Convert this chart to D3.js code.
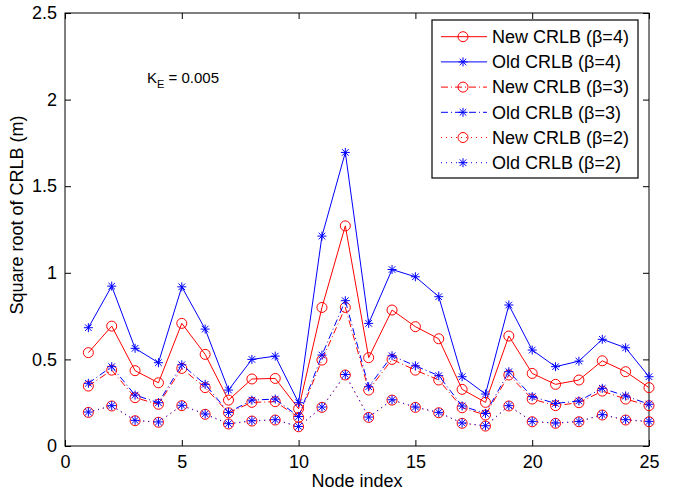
<!DOCTYPE html>
<html>
<head>
<meta charset="utf-8">
<script src="https://cdn.jsdelivr.net/npm/d3@7"></script>
<style>
  body { margin: 0; background: #fff; }
  svg { font-family: "Liberation Sans", Arial, sans-serif; }
</style>
</head>
<body>
<div id="chart"></div>
<script>
// node indices 1..25
var nodes = d3.range(1, 26);

var newB4 = [0.539, 0.692, 0.435, 0.365, 0.708, 0.529, 0.265, 0.387, 0.390, 0.215,
             0.800, 1.271, 0.510, 0.785, 0.689, 0.619, 0.327, 0.252, 0.635, 0.419,
             0.356, 0.381, 0.492, 0.429, 0.337];
var oldB4 = [0.683, 0.923, 0.564, 0.481, 0.919, 0.675, 0.323, 0.500, 0.519, 0.250,
             1.212, 1.695, 0.708, 1.019, 0.977, 0.862, 0.400, 0.300, 0.814, 0.554,
             0.458, 0.490, 0.616, 0.567, 0.400];
var newB3 = [0.346, 0.438, 0.279, 0.241, 0.448, 0.337, 0.192, 0.252, 0.256, 0.165,
             0.496, 0.800, 0.323, 0.500, 0.438, 0.381, 0.221, 0.179, 0.410, 0.271,
             0.233, 0.250, 0.317, 0.271, 0.233];
var oldB3 = [0.362, 0.458, 0.294, 0.250, 0.469, 0.356, 0.194, 0.265, 0.271, 0.170,
             0.525, 0.839, 0.342, 0.521, 0.463, 0.406, 0.231, 0.188, 0.429, 0.285,
             0.246, 0.260, 0.333, 0.289, 0.241];
var newB2 = [0.194, 0.231, 0.146, 0.137, 0.233, 0.183, 0.127, 0.144, 0.150, 0.111,
             0.223, 0.410, 0.165, 0.265, 0.223, 0.192, 0.131, 0.115, 0.231, 0.140,
             0.131, 0.140, 0.179, 0.150, 0.140];
var oldB2 = [0.196, 0.233, 0.148, 0.139, 0.235, 0.185, 0.129, 0.146, 0.152, 0.113,
             0.225, 0.413, 0.167, 0.267, 0.225, 0.194, 0.133, 0.117, 0.233, 0.142,
             0.133, 0.142, 0.181, 0.152, 0.142];

var xTicks = [0, 5, 10, 15, 20, 25];
var yTicks = [0, 0.5, 1, 1.5, 2, 2.5];

var series = [
  { name: "New CRLB (\u03b2=4)", values: newB4, color: "#ff0000", marker: "circle", dash: null },
  { name: "Old CRLB (\u03b2=4)", values: oldB4, color: "#0000ff", marker: "star", dash: null },
  { name: "New CRLB (\u03b2=3)", values: newB3, color: "#ff0000", marker: "circle", dash: "7,3,1,3" },
  { name: "Old CRLB (\u03b2=3)", values: oldB3, color: "#0000ff", marker: "star", dash: "7,3,1,3" },
  { name: "New CRLB (\u03b2=2)", values: newB2, color: "#ff0000", marker: "circle", dash: "1,4" },
  { name: "Old CRLB (\u03b2=2)", values: oldB2, color: "#0000ff", marker: "star", dash: "1,4" }
];

var width = 673, height = 494;
var margin = { left: 65, right: 24, top: 13, bottom: 48 };
var fontSize = "18px";

var svg = d3.select("#chart").append("svg")
    .attr("width", width).attr("height", height);

var x = d3.scaleLinear().domain([0, 25]).range([margin.left, width - margin.right]);
var y = d3.scaleLinear().domain([0, 2.5]).range([height - margin.bottom, margin.top]);

// axes, ticks pointing inward on all four sides (matlab box)
var tickLen = 6;
function axisStyle(g) {
  g.select(".domain").remove();
  g.selectAll(".tick line").attr("stroke", "#000");
  g.selectAll("text").attr("fill", "#000").style("font-size", fontSize);
}
svg.append("g").attr("transform", "translate(0," + y(0) + ")")
  .call(d3.axisBottom(x).tickValues(xTicks).tickSizeInner(-tickLen).tickPadding(9).tickFormat(d3.format("d")))
  .call(axisStyle);
svg.append("g").attr("transform", "translate(0," + y(2.5) + ")")
  .call(d3.axisTop(x).tickValues(xTicks).tickSizeInner(-tickLen).tickFormat(""))
  .call(axisStyle);
svg.append("g").attr("transform", "translate(" + x(0) + ",0)")
  .call(d3.axisLeft(y).tickValues(yTicks).tickSizeInner(-tickLen).tickPadding(8).tickFormat(d3.format("")))
  .call(axisStyle);
svg.append("g").attr("transform", "translate(" + x(25) + ",0)")
  .call(d3.axisRight(y).tickValues(yTicks).tickSizeInner(-tickLen).tickFormat(""))
  .call(axisStyle);

svg.append("rect")
  .attr("x", x(0)).attr("y", y(2.5))
  .attr("width", x(25) - x(0)).attr("height", y(0) - y(2.5))
  .attr("fill", "none").attr("stroke", "#000").attr("stroke-width", 1);

// marker drawing
function drawMarker(g, kind, color) {
  if (kind == "circle") {
    g.append("circle").attr("r", 5).attr("fill", "none")
      .attr("stroke", color).attr("stroke-width", 1);
  } else {
    var s = 4.5, d = 3.3;
    var p = "M" + (-s) + ",0L" + s + ",0M0," + (-s) + "L0," + s +
            "M" + (-d) + "," + (-d) + "L" + d + "," + d +
            "M" + (-d) + "," + d + "L" + d + "," + (-d);
    g.append("path").attr("d", p).attr("stroke", color).attr("stroke-width", 1).attr("fill", "none");
  }
}

var line = d3.line().x(function(d, i) { return x(nodes[i]); }).y(function(d) { return y(d); });

series.forEach(function(s) {
  svg.append("path").datum(s.values)
    .attr("d", line)
    .attr("fill", "none")
    .attr("stroke", s.color)
    .attr("stroke-width", 1)
    .attr("stroke-dasharray", s.dash);
  s.values.forEach(function(v, i) {
    var g = svg.append("g").attr("transform", "translate(" + x(nodes[i]) + "," + y(v) + ")");
    drawMarker(g, s.marker, s.color);
  });
});

// legend
var legX = 432, legY = 20, legW = 206, legH = 158, rowH = 25.2;
svg.append("rect").attr("x", legX).attr("y", legY).attr("width", legW).attr("height", legH)
  .attr("fill", "#fff").attr("stroke", "#000").attr("stroke-width", 1.2);
series.forEach(function(s, i) {
  var cy = legY + 16.7 + i * rowH;
  svg.append("line").attr("x1", legX + 9).attr("x2", legX + 55)
    .attr("y1", cy).attr("y2", cy)
    .attr("stroke", s.color).attr("stroke-width", 1)
    .attr("stroke-dasharray", s.dash);
  var g = svg.append("g").attr("transform", "translate(" + (legX + 31) + "," + cy + ")");
  drawMarker(g, s.marker, s.color);
  svg.append("text").attr("x", legX + 60).attr("y", cy + 6.3)
    .style("font-size", fontSize).text(s.name);
});

// annotation
var ann = svg.append("text").attr("x", 147).attr("y", 83).style("font-size", "15px");
ann.append("tspan").text("K");
ann.append("tspan").attr("dy", 5).style("font-size", "11px").text("E");
ann.append("tspan").attr("dy", -5).text(" = 0.005");

// axis labels
svg.append("text").attr("x", (x(0) + x(25)) / 2).attr("y", 487)
  .attr("text-anchor", "middle").style("font-size", fontSize).text("Node index");
svg.append("text")
  .attr("transform", "translate(23,215) rotate(-90)")
  .attr("text-anchor", "middle").style("font-size", fontSize).text("Square root of CRLB (m)");
</script>
</body>
</html>
